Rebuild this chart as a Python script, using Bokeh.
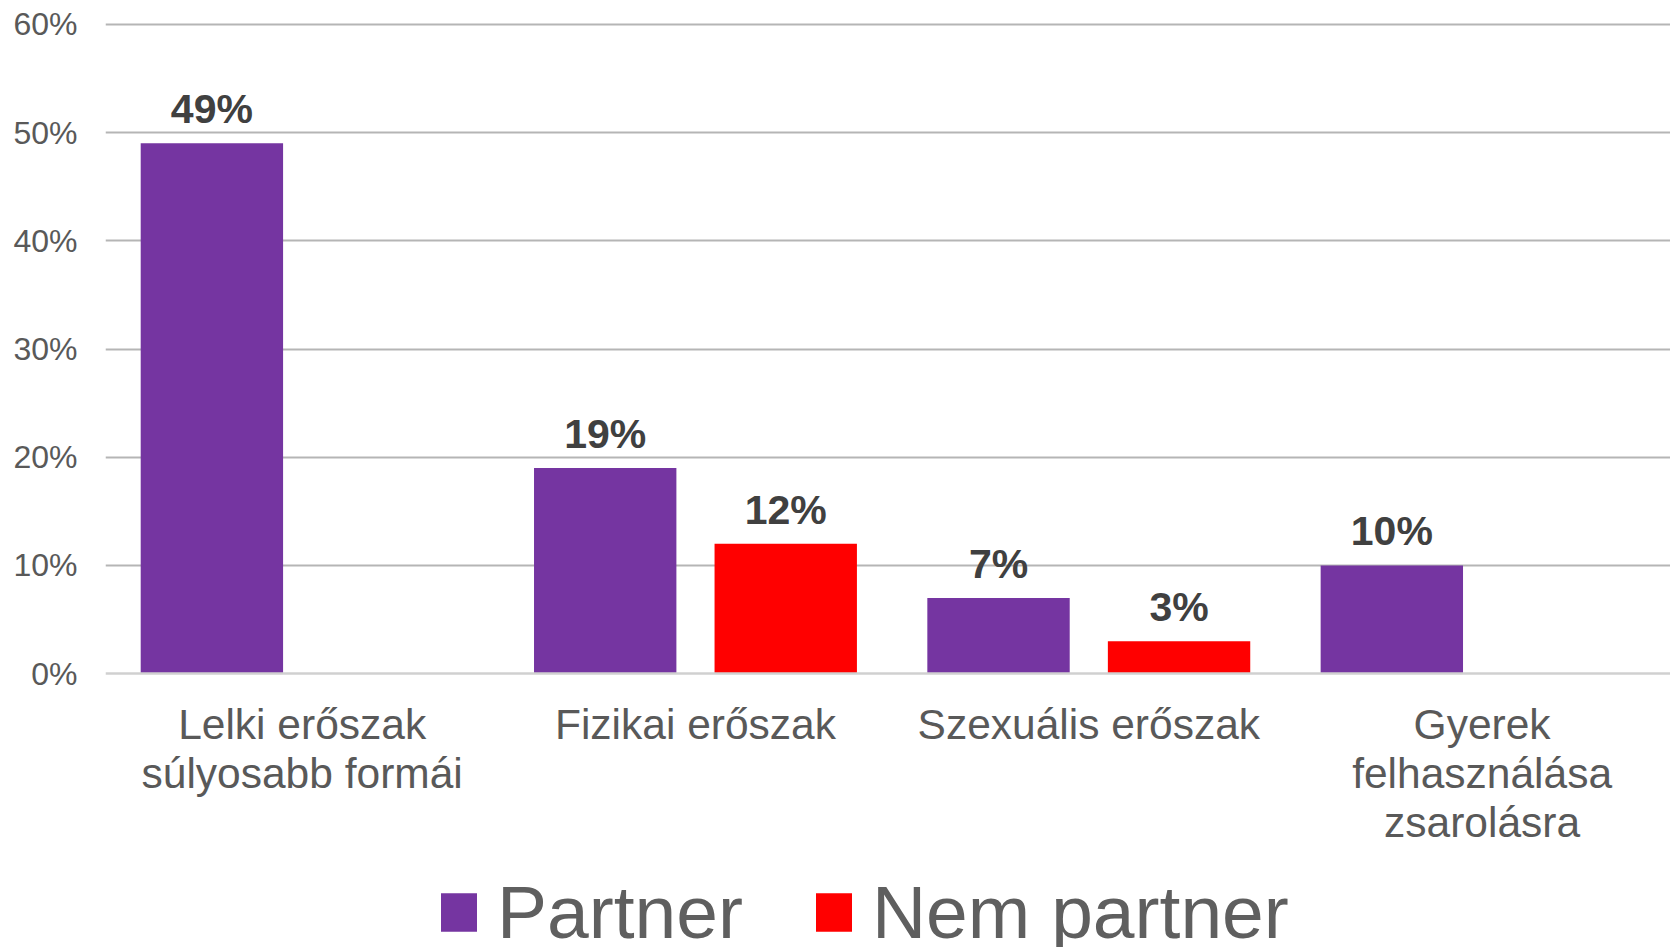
import numpy as np
from bokeh.plotting import figure
from bokeh.models import (ColumnDataSource, Range1d, FixedTicker, PrintfTickFormatter,
                          Legend, LegendItem, LinearAxis)
from bokeh.core.properties import value
from bokeh.embed import file_html
from bokeh.resources import INLINE

categories = ["Lelki erőszak\nsúlyosabb formái", "Fizikai erőszak",
              "Szexuális erőszak", "Gyerek\nfelhasználása\nzsarolásra"]
partner = [49, 19, 7, 10]
nem_partner = [None, 12, 3, None]
y_ticks = [0, 10, 20, 30, 40, 50, 60]
series_names = ["Partner", "Nem partner"]
colors = ["#7535A1", "#FF0000"]

FONT = "Liberation Sans"
centers = np.arange(len(categories)) + 0.5
offset = 0.2295
bar_w = 0.362

# frame spans to the bottom of the page; the category axis sits at y = 0
p = figure(width=1670, height=947, output_backend="svg", toolbar_location=None,
           x_range=Range1d(0, 3.979), y_range=Range1d(-25.3, 61),
           min_border_left=105, min_border_right=0, min_border_top=13,
           min_border_bottom=0, x_axis_location=None)
p.outline_line_color = None
p.background_fill_color = "white"
p.border_fill_color = "white"

src_p = ColumnDataSource(dict(x=centers - offset, top=partner,
                              lab=[f"{v}%" for v in partner]))
idx = [i for i, v in enumerate(nem_partner) if v is not None]
src_n = ColumnDataSource(dict(x=[centers[i] + offset for i in idx],
                              top=[nem_partner[i] for i in idx],
                              lab=[f"{nem_partner[i]}%" for i in idx]))

r1 = p.vbar(x="x", top="top", bottom=0, width=bar_w, source=src_p,
            fill_color=colors[0], line_color=None)
r2 = p.vbar(x="x", top="top", bottom=0, width=bar_w, source=src_n,
            fill_color=colors[1], line_color=None)

for src in (src_p, src_n):
    p.text(x="x", y="top", text="lab", source=src, text_align="center",
           text_baseline="alphabetic", y_offset=-34,
           text_font=value(FONT), text_font_style="bold",
           text_font_size="41px", text_color="#404040")

# category axis fixed at y = 0
xa = LinearAxis(fixed_location=0)
p.add_layout(xa, "below")
xa.ticker = FixedTicker(ticks=list(centers))
xa.major_label_overrides = {float(c): lab for c, lab in zip(centers, categories)}
xa.major_tick_line_color = None
xa.minor_tick_line_color = None
xa.axis_line_color = "#d0d0d0"
xa.axis_line_width = 2.5
xa.major_label_text_font = FONT
xa.major_label_text_font_size = "42.5px"
xa.major_label_text_color = "#595959"
xa.major_label_text_line_height = 1.05
xa.major_label_standoff = 21

ya = p.yaxis[0]
ya.ticker = FixedTicker(ticks=y_ticks)
ya.formatter = PrintfTickFormatter(format="%d%%")
ya.major_tick_line_color = None
ya.minor_tick_line_color = None
ya.axis_line_color = None
ya.major_label_text_font = FONT
ya.major_label_text_font_size = "32px"
ya.major_label_text_color = "#595959"
ya.major_label_standoff = 22

p.xgrid.grid_line_color = None
p.ygrid.ticker = FixedTicker(ticks=y_ticks[1:])
p.ygrid.grid_line_color = "#b5b5b5"
p.ygrid.grid_line_width = 1.8

legend = Legend(items=[LegendItem(label=series_names[0], renderers=[r1]),
                       LegendItem(label=series_names[1], renderers=[r2])],
                orientation="horizontal", location=(331, -8),
                glyph_width=45, glyph_height=48, label_standoff=16, spacing=68,
                padding=0, margin=0, border_line_color=None,
                background_fill_alpha=0,
                label_text_font=FONT, label_text_font_size="75px",
                label_text_color="#5f5f5f")
p.add_layout(legend, "center")

open("out.html", "w").write(file_html(p, INLINE))
